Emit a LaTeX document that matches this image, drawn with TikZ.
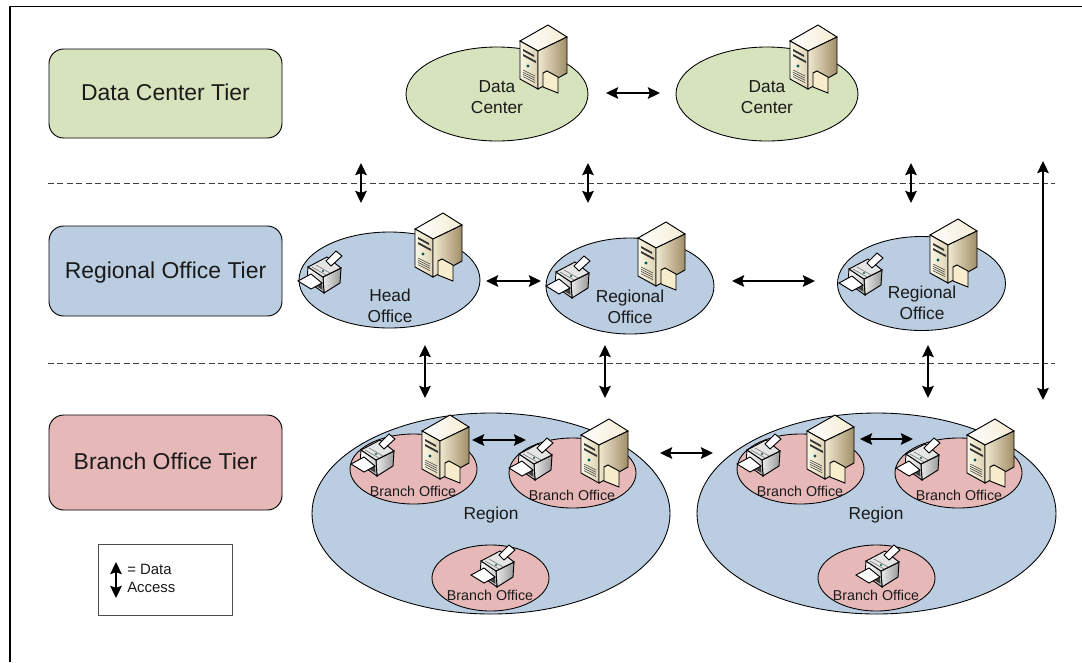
\documentclass[tikz,border=0pt]{standalone}
\usepackage{fontspec}
\setmainfont{Liberation Sans}
\usetikzlibrary{arrows.meta,shapes.geometric}
\definecolor{dcgreen}{HTML}{D7E3BC}
\definecolor{roblue}{HTML}{BACDE1}
\definecolor{bored}{HTML}{E6B9B8}
\definecolor{txt}{HTML}{1A1A1A}
\definecolor{srvtopa}{HTML}{FFFFFF}
\definecolor{srvtopb}{HTML}{F3EBD2}
\definecolor{srvfra}{HTML}{FBF7E6}
\definecolor{srvfrb}{HTML}{DDD2B2}
\definecolor{srvsda}{HTML}{F0E8D0}
\definecolor{srvsdb}{HTML}{A08E68}
\definecolor{srvppr}{HTML}{F7EDCC}
\tikzset{
  ell/.style n args={3}{shape=ellipse,draw=black,line width=0.65pt,fill=#3,inner sep=0pt,
    minimum width=#1*0.75pt,minimum height=#2*0.75pt},
  tier/.style={draw=black,line width=0.7pt,rounded corners=11pt,inner sep=0pt,text height=12.9pt,text depth=2.4pt,font=\fontsize{17.2}{20}\selectfont,text=txt},
  lab/.style={align=center,inner sep=0pt,text=txt,font=\fontsize{13}{15.8}\selectfont},
  blab/.style={inner sep=0pt,text=txt,font=\fontsize{10.7}{13}\selectfont},
  link/.style={line width=2pt,{Stealth[length=9pt,width=8.5pt,inset=1.4pt]}-{Stealth[length=9pt,width=8.5pt,inset=1.4pt]}},
  tierline/.style={draw=black!75,line width=0.6pt,dash pattern=on 4.5pt off 2.6pt},
  server/.pic={
    \shadedraw[line width=0.7pt,draw=black,left color=srvtopa,right color=srvtopb]
      (0,16) -- (28,0) -- (47,12) -- (18,26) -- cycle;
    \shadedraw[line width=0.7pt,draw=black,left color=srvfra,right color=srvfrb]
      (0,16) -- (18,26) -- (18,64) -- (0,54) -- cycle;
    \shadedraw[line width=0.7pt,draw=black,left color=srvsda,right color=srvsdb]
      (18,26) -- (47,12) -- (47,48) -- (18,64) -- cycle;
    \fill[black!80] (3,24) -- (14,30) -- (14,32) -- (3,26) -- cycle;
    \fill[black!80] (3,29) -- (16,36) -- (16,38) -- (3,31) -- cycle;
    \fill[teal!70!black] (8,41) circle (1.7);
    \foreach \d in {0,2.2,4.4,6.6}{\draw[black!75,line width=0.4pt] (3,{45+\d}) -- (15,{51+\d});}
    \fill[srvppr,draw=black,line width=0.7pt]
      (23,48) -- (27,46) -- (38,52) -- (38,68) -- (23,62) -- cycle;
  },
  printer/.pic={
    \shadedraw[line width=0.7pt,draw=black,left color=black!8,right color=black!40]
      (25,27) -- (43,18) -- (42,33) -- (26,43) -- cycle;
    \shadedraw[line width=0.7pt,draw=black,left color=white,right color=black!20]
      (10,17) -- (25,27) -- (26,43) -- (9,31) -- cycle;
    \filldraw[line width=0.7pt,draw=black,fill=black!10] (10,17) -- (29,7) -- (43,18) -- (25,27) -- cycle;
    \draw[black!60,line width=0.4pt] (14,17) -- (28,25) (18,15) -- (32,23);
    \fill[teal!70!black] (25,21) circle (1.2);
    \fill[black!75] (12,25) -- (24,33) -- (24.5,40) -- (12,32) -- cycle;
    \filldraw[line width=0.7pt,draw=black,fill=white] (28,11) -- (38,1) -- (44,6) -- (33,16) -- cycle;
    \filldraw[line width=0.7pt,draw=black,fill=white] (0,31) -- (13,24) -- (24,33) -- (13,39) -- cycle;
  },
}
\begin{document}
\begin{tikzpicture}[x=0.75pt,y=-0.75pt]
\useasboundingbox (0,0) rectangle (1082,662);
% frame
\coordinate (fb) at (10,662); \coordinate (fc) at (10,6.5); \coordinate (fr) at (1082,6.5);
\draw[line width=0.9pt,line join=miter] (fb) -- (fc) -- (fr);
% tier boxes
\node[tier,fill=dcgreen,minimum width=233*0.75pt,minimum height=89*0.75pt] (tdc) at (165.5,93.5) {Data Center Tier};
\node[tier,fill=roblue,minimum width=233*0.75pt,minimum height=90*0.75pt] (tro) at (165.5,271) {Regional Office Tier};
\node[tier,fill=bored,minimum width=233*0.75pt,minimum height=95*0.75pt] (tbo) at (165.5,462.5) {Branch Office Tier};
% dashed tier lines
\coordinate (d1a) at (48,183); \coordinate (d1b) at (1055,183);
\coordinate (d2a) at (48,363); \coordinate (d2b) at (1055,363);
\draw[tierline] (d1a) -- (d1b);
\draw[tierline] (d2a) -- (d2b);
% data centres
\node[ell={182}{94}{dcgreen}] (dc1) at (497,94) {};
\node[ell={182}{94}{dcgreen}] (dc2) at (767,94) {};
\pic at (520,25) {server};
\pic at (790,25) {server};
\node[lab] (dc1t) at (497,97) {Data\\Center};
\node[lab] (dc2t) at (767,97) {Data\\Center};
% regional offices
\node[ell={181}{96}{roblue}] (ho) at (389.5,280) {};
\node[ell={168}{96}{roblue}] (ro1) at (630,286) {};
\node[ell={168}{94}{roblue}] (ro2) at (921.5,283.5) {};
\pic at (415,213) {server};
\pic at (638,222) {server};
\pic at (930,219) {server};
\pic at (298,250) {printer};
\pic at (546,255) {printer};
\pic at (839,252) {printer};
\node[lab] (hot) at (390,305.5) {Head\\Office};
\node[lab] (ro1t) at (630,306.5) {Regional\\Office};
\node[lab] (ro2t) at (922,303) {Regional\\Office};
% regions
\node[ell={358}{201}{roblue}] (r1) at (491,513.5) {};
\node[ell={359}{201}{roblue}] (r2) at (876.5,513.5) {};
\node[ell={127}{70}{bored}] (b11) at (413.5,469) {};
\node[ell={127}{70}{bored}] (b12) at (572.5,473) {};
\node[ell={117}{66}{bored}] (b13) at (490.5,578) {};
\node[ell={127}{70}{bored}] (b21) at (800.5,469) {};
\node[ell={127}{70}{bored}] (b22) at (958.5,473) {};
\node[ell={117}{66}{bored}] (b23) at (876.5,578) {};
\pic at (422,415) {server};
\pic at (581,419) {server};
\pic at (807,415) {server};
\pic at (967,419) {server};
\pic at (351,433) {printer};
\pic at (509,437) {printer};
\pic at (471,544) {printer};
\pic at (737,433) {printer};
\pic at (896,437) {printer};
\pic at (856,544) {printer};
\node[blab] (b11t) at (413,491) {Branch Office};
\node[blab] (b12t) at (572,495) {Branch Office};
\node[blab] (b13t) at (490,595) {Branch Office};
\node[blab] (b21t) at (800,491) {Branch Office};
\node[blab] (b22t) at (959,495) {Branch Office};
\node[blab] (b23t) at (876,595) {Branch Office};
\node[lab] (r1t) at (491,515) {Region};
\node[lab] (r2t) at (876,515) {Region};
% legend
\node[draw=black!70,line width=0.7pt,minimum width=134*0.75pt,minimum height=71*0.75pt,inner sep=0pt] (leg) at (165,579.5) {};
\node[inner sep=0pt,anchor=west,align=left,text=txt,font=\fontsize{11.2}{13.6}\selectfont] (legt) at (127,578) {= Data\\Access};
% connectors
\foreach \n/\ax/\ay/\bx/\by in {
  a1/606/93/660/93, a2/486/281/541/281, a3/732/281/815/281,
  a4/472/440/526/440, a5/660/453/713/453, a6/860/439/913/439,
  v1/361/163/361/203, v2/588/163/588/203, v3/911/163/911/203,
  v4/1043/161/1043/400, v5/425/345/425/398, v6/605/345/605/398, v7/928/345/928/398,
  l1/116/562/116/598}{
  \coordinate (\n s) at (\ax,\ay);
  \coordinate (\n e) at (\bx,\by);
  \draw[link] (\n s) -- (\n e);
}
\end{tikzpicture}
\end{document}
